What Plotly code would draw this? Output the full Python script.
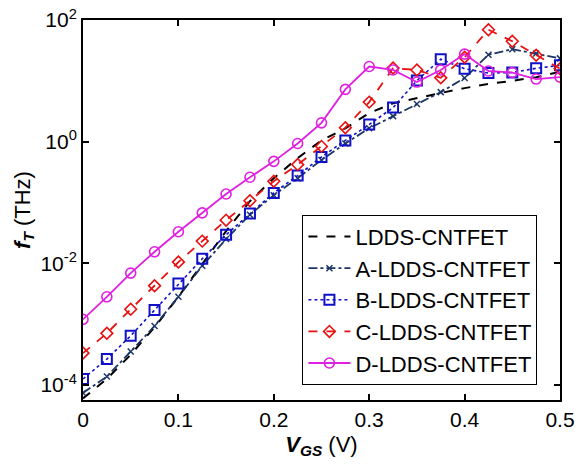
import plotly.graph_objects as go

vgs = [0.0, 0.025, 0.05, 0.075, 0.1, 0.125, 0.15, 0.175, 0.2, 0.225, 0.25,
       0.275, 0.3, 0.325, 0.35, 0.375, 0.4, 0.425, 0.45, 0.475, 0.5]

ft_ldds = [6.03e-5, 1.26e-4, 3.16e-4, 8.91e-4, 2.82e-3, 9.55e-3, 0.0339, 0.105, 0.251, 0.537, 1.05,
           1.66, 2.95, 4.27, 5.25, 6.31, 7.59, 8.91, 10.0, 11.5, 14.1]
ft_a = [7.41e-5, 1.38e-4, 3.55e-4, 9.33e-4, 2.82e-3, 9.12e-3, 0.0251, 0.0631, 0.132, 0.251, 0.501,
        0.933, 1.66, 2.63, 4.17, 6.53, 11.1, 26.9, 33.1, 28.2, 23.4]
ft_b = [1.26e-4, 2.67e-4, 6.46e-4, 1.71e-3, 4.65e-3, 0.0119, 0.0295, 0.0661, 0.144, 0.277, 0.561,
        1.05, 1.91, 3.63, 10.1, 22.6, 15.8, 13.4, 13.7, 16.1, 18.0]
ft_c = [3.35e-4, 7.08e-4, 1.76e-3, 4.27e-3, 0.0105, 0.0232, 0.0513, 0.107, 0.224, 0.420, 0.837,
        1.70, 4.47, 16.2, 15.1, 11.2, 24.5, 69.2, 44.7, 26.3, 15.8]
ft_d = [1.20e-3, 2.82e-3, 6.92e-3, 0.0155, 0.0331, 0.0676, 0.138, 0.260, 0.475, 0.933, 2.04,
        7.24, 17.2, 15.1, 9.55, 15.1, 27.5, 14.5, 13.7, 10.7, 11.5]

names = ["LDDS-CNTFET", "A-LDDS-CNTFET", "B-LDDS-CNTFET", "C-LDDS-CNTFET", "D-LDDS-CNTFET"]

x_ticks = [0, 0.1, 0.2, 0.3, 0.4, 0.5]
x_ticklabels = ["0", "0.1", "0.2", "0.3", "0.4", "0.5"]
y_ticks = [1e-4, 1e-2, 1, 1e2]
y_ticklabels = ["10<sup>-4</sup>", "10<sup>-2</sup>", "10<sup>0</sup>", "10<sup>2</sup>"]

FONT = "Arial, Liberation Sans, sans-serif"

fig = go.Figure()
fig.add_trace(go.Scatter(x=vgs, y=ft_ldds, name=names[0], mode="lines",
                         line=dict(color="black", width=2, dash="dash")))
fig.add_trace(go.Scatter(x=vgs, y=ft_a, name=names[1], mode="lines+markers",
                         line=dict(color="#1c3566", width=1.8, dash="dashdot"),
                         marker=dict(symbol="x-thin-open", size=6, color="#1c3566",
                                     line=dict(color="#1c3566", width=1.5))))
fig.add_trace(go.Scatter(x=vgs, y=ft_b, name=names[2], mode="lines+markers",
                         line=dict(color="#1010c8", width=1.6, dash="dot"),
                         marker=dict(symbol="square-open", size=10, color="#1010c8",
                                     line=dict(color="#1010c8", width=2))))
fig.add_trace(go.Scatter(x=vgs, y=ft_c, name=names[3], mode="lines+markers",
                         line=dict(color="#e81010", width=1.8, dash="dash"),
                         marker=dict(symbol="diamond-open", size=9, color="#e81010",
                                     line=dict(color="#e81010", width=1.6))))
fig.add_trace(go.Scatter(x=vgs, y=ft_d, name=names[4], mode="lines+markers",
                         line=dict(color="#e020e0", width=1.8),
                         marker=dict(symbol="circle-open", size=10, color="#e020e0",
                                     line=dict(color="#e020e0", width=1.6))))

fig.update_layout(
    width=575, height=464,
    margin=dict(l=83, r=15, t=20, b=64),
    paper_bgcolor="white", plot_bgcolor="white",
    font=dict(family=FONT, size=21, color="black"),
    showlegend=True,
    legend=dict(x=0.46, y=0.04, xanchor="left", yanchor="bottom",
                bgcolor="white", bordercolor="black", borderwidth=1,
                font=dict(family=FONT, size=22, color="black"),
                itemwidth=42, tracegroupgap=0),
    xaxis=dict(range=[0, 0.5], tickvals=x_ticks, ticktext=x_ticklabels,
               ticks="inside", ticklen=6, tickwidth=1.5, tickcolor="black",
               showline=True, linecolor="black", linewidth=2, mirror="ticks",
               showgrid=False, zeroline=False, automargin=False,
               tickfont=dict(family=FONT, size=21),
               title=dict(text="<b><i>V</i></b><sub><b><i>GS</i></b></sub> (V)",
                          font=dict(family=FONT, size=22), standoff=6)),
    yaxis=dict(type="log", range=[-4.246, 2], tickvals=y_ticks, ticktext=y_ticklabels,
               ticks="inside", ticklen=6, tickwidth=1.5, tickcolor="black",
               showline=True, linecolor="black", linewidth=2, mirror="ticks",
               showgrid=False, zeroline=False, automargin=False,
               tickfont=dict(family=FONT, size=21),
               title=dict(text="<b><i>f</i></b><sub><b><i>T</i></b></sub> (THz)",
                          font=dict(family=FONT, size=22), standoff=4)),
)

fig.write_html("out.html")
